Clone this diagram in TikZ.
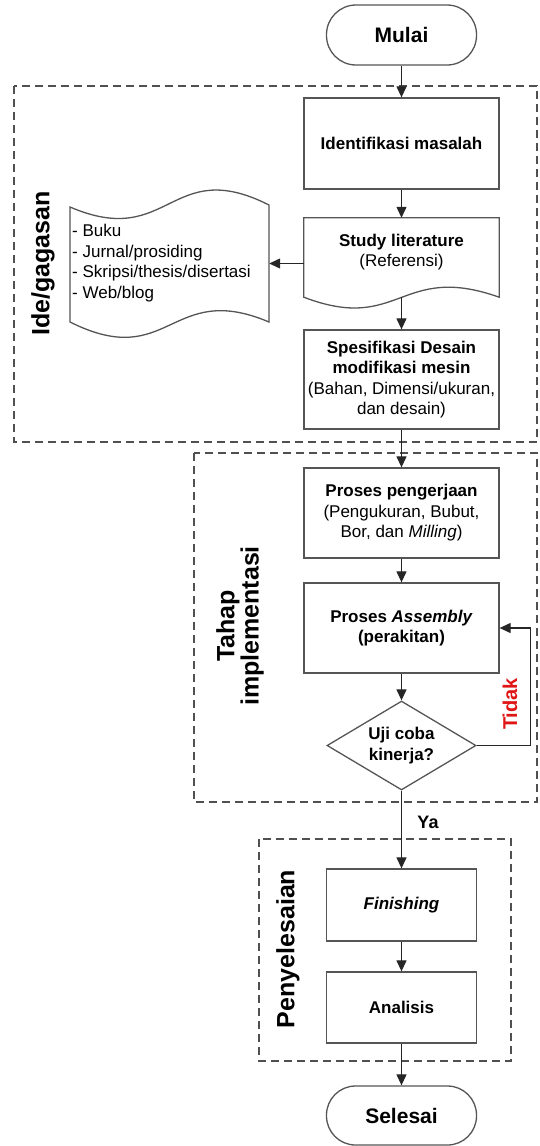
\documentclass[tikz,border=0pt]{standalone}
\usepackage{fontspec}
\setmainfont{Liberation Sans}
\usetikzlibrary{arrows.meta,shapes.geometric,calc}
\definecolor{edge}{HTML}{555555}
\definecolor{grpc}{HTML}{505050}
\definecolor{tred}{HTML}{E01515}
\newcommand\fsz{\fontsize{17}{20.5}\selectfont}
\begin{document}
\begin{tikzpicture}[x=1pt,y=-1pt,
  edgeline/.style={draw=edge,line width=1.3pt},
  box/.style={edgeline,rectangle,inner sep=0pt,align=center,font=\fsz,minimum width=195,minimum height=90},
  sbox/.style={box,minimum width=150},
  term/.style={edgeline,rectangle,rounded corners=29.5pt,inner sep=0pt,minimum width=150,minimum height=60,font=\fontsize{21}{24}\selectfont\bfseries},
  dia/.style={edgeline,diamond,aspect=1.67,inner sep=0pt,minimum width=149,minimum height=89,align=center,font=\fsz\bfseries},
  txt/.style={inner sep=0pt,align=center,font=\fsz},
  ghost/.style={inner sep=0pt,rectangle},
  arr/.style={draw=black!85,line width=1.2pt,-{Triangle[length=11pt,width=10pt]}},
  grp/.style={draw=grpc,line width=1.3pt,dash pattern=on 8pt off 5pt},
  grplabel/.style={inner sep=0pt,rotate=90,align=center,font=\fontsize{25}{22}\selectfont\bfseries}
]
\useasboundingbox (0,0) rectangle (539,1146);

% group frames
\draw[grp] (14,86) rectangle (537,442);
\draw[grp] (194,453) rectangle (537,802);
\draw[grp] (259,839) rectangle (511,1061);

% group labels
\node[grplabel] (lblide) at (43,263.5) {Ide/gagasan};
\node[grplabel] (lbltahap) at (240,626) {Tahap\\implementasi};
\node[grplabel] (lblpeny) at (288,949) {Penyelesaian};

% terminals and boxes
\node[term] (mulai) at (401.5,35) {Mulai};
\node[box,minimum height=91] (ident) at (401.5,143.5) {\bfseries Identifikasi masalah};

\node[ghost,minimum width=195,minimum height=79] (studybox) at (401.5,257.5) {};
\draw[edgeline] (studybox.north west) -- (studybox.north east) -- (studybox.south east)
  .. controls (400,262) and (400,334) .. (studybox.south west) -- cycle;
\node[txt] (study) at (401.5,252) {\textbf{Study literature}\\(Referensi)};

\node[ghost,minimum width=199,minimum height=117] (tapebox) at (169.5,263.5) {};
\draw[edgeline] (70,207) .. controls (170,250) and (170,155) .. (269,205)
  -- (269,322) .. controls (170,280) and (170,372) .. (70,322) -- cycle;
\node[txt,anchor=west,align=left] (tape) at (72,263) {- Buku\\- Jurnal/prosiding\\- Skripsi/thesis/disertasi\\- Web/blog};

\node[box,minimum height=99] (spes) at (401.5,379.5) {\textbf{Spesifikasi Desain}\\\textbf{modifikasi mesin}\\(Bahan, Dimensi/ukuran,\\dan desain)};
\node[box] (proses) at (401.5,513) {\textbf{Proses pengerjaan}\\(Pengukuran, Bubut,\\Bor, dan \textit{Milling})};
\node[box] (assembly) at (401.5,628) {\textbf{Proses \textit{Assembly}}\\\textbf{(perakitan)}};
\node[dia] (uji) at (401.5,745.5) {Uji coba\\kinerja?};
\node[sbox,minimum height=72] (fin) at (401.5,905) {\bfseries\itshape Finishing};
\node[sbox,minimum height=71] (anal) at (401.5,1007.5) {\bfseries Analisis};
\node[term,minimum height=59,rounded corners=29pt] (selesai) at (401.5,1115.5) {Selesai};

% connectors
\draw[arr] (mulai.south) -- (ident.north);
\draw[arr] (ident.south) -- (studybox.north);
\draw[arr] (studybox.west |- tapebox.east) -- (tapebox.east);
\draw[arr] (studybox.south) -- (spes.north);
\draw[arr] (spes.south) -- (proses.north);
\draw[arr] (proses.south) -- (assembly.north);
\draw[arr] (assembly.south) -- (uji.north);
\draw[arr] (uji.south) -- (fin.north);
\draw[arr] (uji.east) -- ++(54,0) |- (assembly.east);
\draw[arr] (fin.south) -- (anal.north);
\draw[arr] (anal.south) -- (selesai.north);

% connector labels
\node[inner sep=0pt,font=\fontsize{18}{20}\selectfont\bfseries] (ya) at (428,822) {Ya};
\node[inner sep=0pt,rotate=90,text=tred,font=\fontsize{20}{22}\selectfont\bfseries] (tidak) at (510,704) {Tidak};
\end{tikzpicture}
\end{document}
